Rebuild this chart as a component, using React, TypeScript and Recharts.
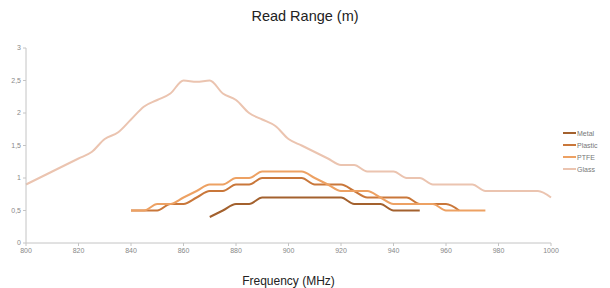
import React from "react";
import { LineChart, Line, XAxis, YAxis } from "recharts";

const FREQS = [800, 805, 810, 815, 820, 825, 830, 835, 840, 845, 850, 855, 860, 865, 870, 875, 880, 885, 890, 895, 900, 905, 910, 915, 920, 925, 930, 935, 940, 945, 950, 955, 960, 965, 970, 975, 980, 985, 990, 995, 1000];

const GLASS = [0.9, 1.0, 1.1, 1.2, 1.3, 1.4, 1.6, 1.7, 1.9, 2.1, 2.2, 2.3, 2.5, 2.48, 2.5, 2.3, 2.2, 2.0, 1.9, 1.8, 1.6, 1.5, 1.4, 1.3, 1.2, 1.2, 1.1, 1.1, 1.1, 1.0, 1.0, 0.9, 0.9, 0.9, 0.9, 0.8, 0.8, 0.8, 0.8, 0.8, 0.7];

const METAL_START = 870;
const METAL = [0.4, 0.5, 0.6, 0.6, 0.7, 0.7, 0.7, 0.7, 0.7, 0.7, 0.7, 0.6, 0.6, 0.6, 0.5, 0.5, 0.5];

const PLASTIC_START = 840;
const PLASTIC = [0.5, 0.5, 0.5, 0.6, 0.6, 0.7, 0.8, 0.8, 0.9, 0.9, 1.0, 1.0, 1.0, 1.0, 0.9, 0.9, 0.9, 0.8, 0.7, 0.7, 0.7, 0.7, 0.6, 0.6, 0.6, 0.5];

const PTFE_START = 840;
const PTFE = [0.5, 0.5, 0.6, 0.6, 0.7, 0.8, 0.9, 0.9, 1.0, 1.0, 1.1, 1.1, 1.1, 1.1, 1.0, 0.9, 0.8, 0.8, 0.8, 0.7, 0.6, 0.6, 0.6, 0.6, 0.5, 0.5, 0.5, 0.5];

const X_TICKS = [800, 820, 840, 860, 880, 900, 920, 940, 960, 980, 1000];
const Y_TICKS = [0, 0.5, 1, 1.5, 2, 2.5, 3];

const SERIES = [
  { key: "metal", name: "Metal", color: "#a3612e" },
  { key: "plastic", name: "Plastic", color: "#c9773a" },
  { key: "ptfe", name: "PTFE", color: "#eda163" },
  { key: "glass", name: "Glass", color: "#ebc4b0" },
];

const pick = (arr: number[], start: number, f: number) => {
  const i = Math.round((f - start) / 5);
  return i >= 0 && i < arr.length ? arr[i] : undefined;
};

const rows = FREQS.map((f, i) => ({
  f,
  glass: GLASS[i],
  metal: pick(METAL, METAL_START, f),
  plastic: pick(PLASTIC, PLASTIC_START, f),
  ptfe: pick(PTFE, PTFE_START, f),
}));

const FONT = "'Liberation Sans', Arial, sans-serif";

export default function App() {
  return (
    <div style={{ position: "absolute", left: 0, top: 0, width: 610, height: 288, background: "#fff", fontFamily: FONT }}>
      <div style={{ position: "absolute", left: 0, width: 610, top: 8, textAlign: "center", fontSize: 14.5, color: "#222" }}>
        Read Range (m)
      </div>
      <LineChart width={610} height={288} data={rows} margin={{ top: 48, right: 59, bottom: 0, left: 0 }}>
        <XAxis
          dataKey="f"
          type="number"
          domain={[800, 1000]}
          ticks={X_TICKS}
          height={45}
          stroke="#c4c4c4"
          tickSize={3}
          tickMargin={2}
          tick={{ fontSize: 7, fill: "#888", fontFamily: FONT }}
          interval={0}
        />
        <YAxis
          type="number"
          domain={[0, 3]}
          ticks={Y_TICKS}
          width={26}
          stroke="#c4c4c4"
          tickSize={3}
          tickMargin={2}
          tick={{ fontSize: 7, fill: "#888", fontFamily: FONT }}
          tickFormatter={(v: number) => String(v).replace(".", ",")}
          interval={0}
        />
        {SERIES.map((s) => (
          <Line
            key={s.key}
            dataKey={s.key}
            name={s.name}
            stroke={s.color}
            strokeWidth={2}
            dot={false}
            type="monotone"
            isAnimationActive={false}
            connectNulls={false}
          />
        ))}
      </LineChart>
      <div style={{ position: "absolute", left: 563, top: 127, fontSize: 7, color: "#777" }}>
        {SERIES.map((s) => (
          <div key={s.key} style={{ display: "flex", alignItems: "center", height: 12 }}>
            <svg width={13} height={4} style={{ marginRight: 1 }}>
              <line x1={0} y1={2} x2={13} y2={2} stroke={s.color} strokeWidth={2} />
            </svg>
            <span>{s.name}</span>
          </div>
        ))}
      </div>
      <div style={{ position: "absolute", left: 26, width: 525, top: 274, textAlign: "center", fontSize: 12, color: "#222" }}>
        Frequency (MHz)
      </div>
    </div>
  );
}
